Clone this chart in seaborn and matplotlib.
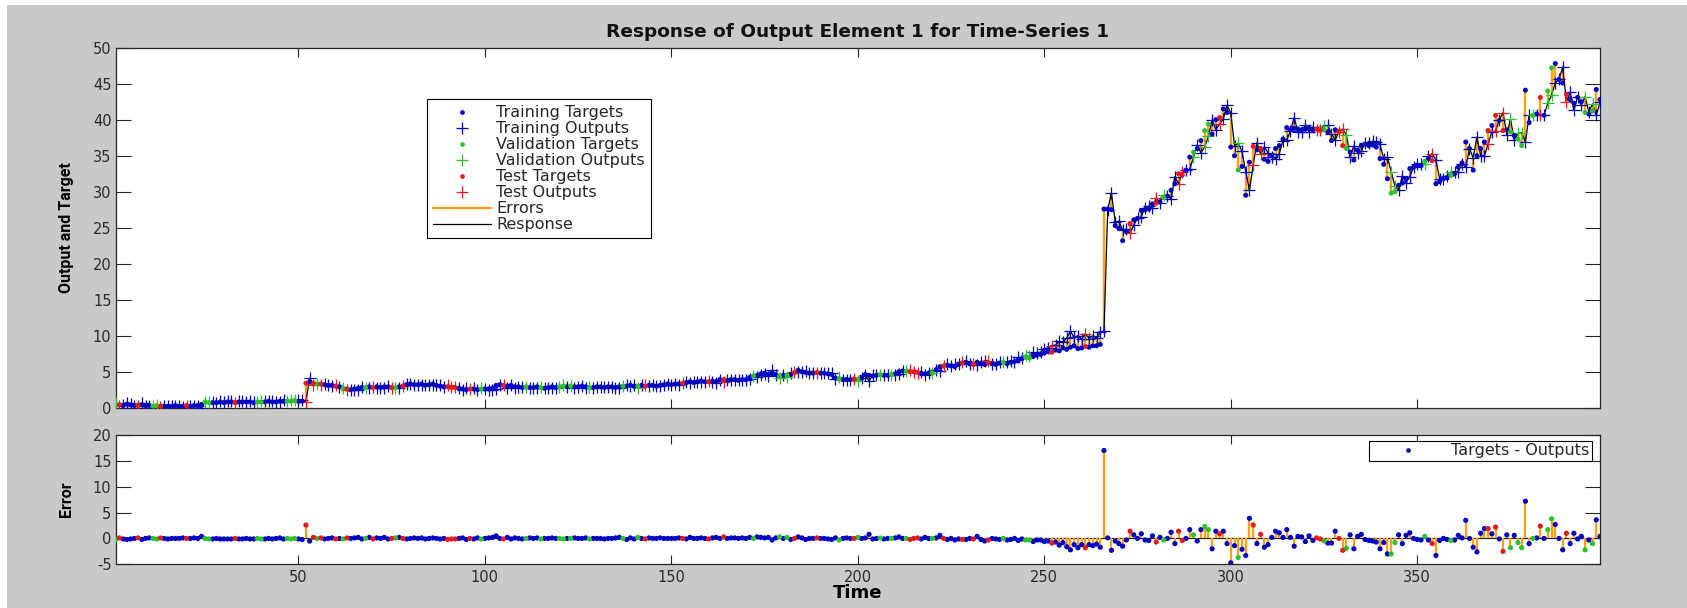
import matplotlib
matplotlib.use("Agg")
import matplotlib.pyplot as plt
import numpy as np
import pandas as pd
import seaborn as sns
from matplotlib.lines import Line2D
from matplotlib.patches import Rectangle

# ---------------- data ----------------
time_steps = list(range(1, 400))

targets = [
    0.4, 0.4, 0.3, 0.5, 0.4, 0.3, 0.3, 0.4, 0.3, 0.3,
    0.2, 0.3, 0.2, 0.2, 0.2, 0.2, 0.3, 0.2, 0.2, 0.3,
    0.2, 0.3, 0.3, 0.4, 0.8, 0.7, 0.7, 0.7, 0.8, 0.7,
    0.8, 0.8, 0.7, 0.8, 0.8, 0.8, 0.8, 0.7, 0.8, 0.8,
    0.8, 0.9, 0.8, 0.8, 0.9, 0.9, 0.9, 0.9, 1.0, 0.9,
    0.9, 3.4, 3.6, 3.4, 3.3, 3.3, 3.2, 3.1, 3.1, 3.0,
    2.9, 2.7, 2.6, 2.5, 2.6, 2.7, 2.8, 2.8, 2.9, 2.8,
    2.9, 2.8, 2.9, 2.9, 2.8, 2.8, 2.9, 3.0, 3.2, 3.3,
    3.2, 3.2, 3.3, 3.1, 3.2, 3.3, 3.1, 3.0, 2.9, 2.9,
    2.8, 2.8, 2.7, 2.6, 2.5, 2.6, 2.6, 2.5, 2.6, 2.6,
    2.6, 2.7, 3.1, 3.2, 3.1, 3.0, 3.1, 2.9, 2.9, 2.8,
    2.9, 2.8, 2.8, 2.9, 2.8, 2.7, 2.8, 2.9, 2.8, 2.9,
    3.0, 2.9, 3.0, 2.9, 2.9, 3.0, 2.9, 2.8, 2.8, 2.9,
    2.9, 2.8, 2.9, 2.9, 2.8, 2.9, 3.0, 3.0, 3.1, 3.0,
    3.0, 3.1, 3.0, 3.1, 3.1, 3.0, 3.1, 3.2, 3.3, 3.2,
    3.3, 3.3, 3.4, 3.5, 3.6, 3.5, 3.6, 3.7, 3.6, 3.6,
    3.7, 3.6, 3.9, 3.9, 3.8, 3.9, 3.9, 3.8, 3.9, 3.9,
    4.2, 4.4, 4.5, 4.7, 4.8, 4.6, 4.9, 4.6, 4.4, 4.5,
    4.5, 4.6, 4.9, 5.2, 5.0, 4.9, 4.8, 4.8, 4.9, 4.8,
    4.8, 4.7, 4.6, 4.1, 4.0, 3.9, 3.9, 3.9, 4.0, 3.9,
    4.1, 4.6, 4.5, 4.4, 4.5, 4.6, 4.5, 4.5, 4.6, 4.7,
    5.0, 5.1, 5.1, 5.0, 5.0, 4.9, 4.8, 4.7, 4.8, 4.8,
    5.3, 5.7, 5.8, 5.9, 5.8, 5.7, 6.0, 6.2, 6.3, 6.1,
    6.0, 6.3, 6.1, 6.0, 6.2, 6.1, 6.0, 6.2, 6.3, 6.1,
    6.3, 6.4, 6.6, 6.8, 7.0, 6.9, 7.1, 7.3, 7.4, 7.6,
    7.8, 7.7, 8.0, 7.9, 8.3, 8.1, 8.4, 8.6, 8.2, 8.3,
    8.5, 8.4, 8.6, 8.6, 8.8, 27.6, 27.6, 27.5, 25.3, 24.9,
    23.2, 24.5, 25.6, 26.1, 26.3, 27.4, 27.5, 27.6, 28.3, 28.4,
    28.6, 29.2, 29.4, 30.2, 31.1, 32.5, 32.3, 33.0, 34.8, 35.5,
    36.0, 37.1, 38.5, 39.4, 38.0, 40.0, 40.3, 41.5, 41.0, 36.2,
    35.0, 33.0, 33.5, 29.5, 34.1, 36.3, 35.8, 36.0, 34.5, 34.2,
    35.0, 36.0, 36.4, 37.3, 38.9, 38.6, 38.8, 38.7, 38.6, 38.7,
    38.8, 38.6, 38.7, 38.5, 38.6, 38.3, 37.1, 38.6, 38.3, 36.4,
    36.0, 35.5, 34.4, 35.8, 36.4, 36.6, 36.4, 36.5, 36.2, 34.6,
    33.8, 31.8, 29.8, 30.0, 30.9, 31.2, 31.8, 33.2, 33.4, 33.7,
    33.6, 34.2, 34.6, 34.3, 31.1, 31.4, 31.8, 32.0, 32.3, 32.5,
    33.4, 34.0, 36.9, 36.0, 33.0, 35.0, 36.0, 36.9, 38.5, 39.2,
    40.6, 39.9, 38.5, 38.6, 38.3, 37.8, 37.3, 36.4, 44.1, 39.6,
    40.6, 40.8, 43.1, 40.6, 44.0, 47.2, 47.8, 45.6, 45.1, 43.5,
    42.8, 42.3, 43.1, 42.5, 41.0, 40.8, 41.2, 44.2, 42.8,
]

# errors = targets - outputs
errors = [
    -0.2, 0.1, -0.1, -0.2, -0.1, 0.0, 0.1, -0.2, 0.0, 0.1,
    0.0, -0.1, 0.1, 0.0, -0.1, 0.0, 0.0, 0.0, 0.1, 0.0,
    0.0, 0.1, 0.0, 0.4, 0.0, -0.1, -0.1, 0.0, -0.1, -0.1,
    -0.1, -0.1, 0.0, -0.1, -0.1, 0.0, -0.1, -0.1, 0.0, -0.1,
    -0.1, 0.0, -0.1, 0.0, 0.1, -0.1, 0.0, -0.1, 0.0, -0.1,
    -0.2, 2.6, -0.5, 0.2, 0.0, 0.1, -0.1, 0.0, 0.1, -0.1,
    0.0, -0.1, 0.1, 0.0, 0.1, 0.2, -0.1, 0.0, 0.2, -0.1,
    0.1, 0.0, 0.2, -0.1, 0.0, 0.1, 0.2, 0.0, -0.1, 0.0,
    0.1, 0.0, 0.1, -0.1, 0.0, 0.1, 0.0, -0.1, 0.0, -0.2,
    -0.1, -0.1, 0.0, 0.1, -0.2, 0.0, -0.1, 0.1, -0.1, 0.0,
    0.1, 0.2, 0.5, 0.0, -0.1, 0.2, -0.1, 0.1, 0.0, -0.1,
    0.0, 0.1, 0.0, 0.1, -0.1, 0.0, 0.0, 0.1, 0.0, 0.0,
    -0.1, 0.0, 0.0, 0.1, 0.0, 0.0, 0.1, -0.1, 0.0, 0.0,
    0.0, -0.1, 0.0, 0.0, 0.1, 0.2, 0.0, -0.2, 0.1, -0.1,
    0.2, 0.0, -0.1, 0.1, 0.0, 0.0, 0.1, 0.0, 0.0, 0.0,
    0.0, 0.1, 0.0, -0.1, 0.2, 0.0, 0.0, 0.1, 0.0, -0.1,
    0.1, 0.2, 0.0, 0.3, 0.0, 0.1, 0.1, 0.0, 0.1, 0.0,
    0.2, 0.0, 0.3, 0.2, 0.1, 0.2, -0.3, 0.1, 0.3, 0.0,
    0.2, -0.2, 0.0, 0.3, 0.1, -0.2, 0.0, 0.0, 0.1, 0.0,
    0.0, -0.1, -0.2, 0.1, -0.3, 0.0, 0.1, 0.0, 0.0, 0.2,
    0.0, 0.1, 0.8, -0.1, 0.0, 0.1, -0.1, 0.0, 0.0, 0.1,
    0.3, 0.0, 0.0, -0.2, 0.0, 0.1, -0.1, 0.2, 0.0, 0.0,
    0.1, 0.6, 0.0, -0.2, 0.0, -0.3, -0.1, -0.2, -0.2, 0.0,
    -0.1, 0.4, -0.2, -0.5, -0.3, 0.0, -0.1, -0.2, 0.0, -0.3,
    -0.2, 0.0, -0.4, -0.1, -0.3, -0.3, -0.6, -0.3, -0.3, -0.6,
    -0.5, -0.9, -0.7, -1.3, -0.8, -1.6, -2.2, -1.2, -1.8, -1.2,
    -1.8, -1.2, -1.4, -1.1, -1.7, 17.0, 0.1, -2.3, -0.5, -1.0,
    -1.5, -0.3, 1.4, 0.7, 0.0, 0.9, -0.3, -0.4, 0.5, -0.7,
    0.2, -0.3, 0.0, 1.2, -1.0, 1.4, -0.4, 0.0, 1.7, 0.7,
    -0.5, 1.7, 2.3, 1.7, -2.0, 1.4, 0.9, 1.4, -1.0, -4.7,
    -1.4, -3.7, -2.1, -3.3, 3.9, 2.6, -1.0, 0.8, -1.7, -1.2,
    0.2, 1.4, 1.1, 0.2, 1.7, 0.2, -1.5, 0.4, 0.3, -0.6,
    0.5, -0.4, 0.1, -0.1, -0.5, -0.9, -0.9, 1.4, 0.0, -2.3,
    -1.9, 0.7, -2.0, 0.4, 0.8, -0.2, -0.4, -0.5, -0.7, -2.0,
    -0.8, -3.0, -3.0, -0.8, 0.7, -1.0, 0.6, 1.1, 0.0, -0.2,
    -0.3, 0.4, -0.3, -1.0, -3.3, -0.4, 0.0, -0.2, -0.4, -0.3,
    0.6, 0.1, 3.5, 0.0, -1.7, -2.6, 1.0, 1.9, 1.9, 0.9,
    2.2, -0.1, -2.5, 0.7, -1.8, 0.6, -0.8, -1.8, 7.2, -1.0,
    0.0, 0.1, 2.4, 0.0, 1.7, 3.8, 2.7, 0.0, -2.2, 1.0,
    -1.0, 1.0, -0.1, 0.4, -2.2, -0.3, -1.0, 3.6, 0.4,
]

# data division per time step: T = training, V = validation, S = test
split_codes = (
    "VSTTTTSTTT" "VVSTTTTTTS" "TTTTVVTTTT" "TTSTTTTTVV" "TTTTTTVVVT"
    "TSTSVSTTTS" "TVSTTTTVTS" "TTTTSVTSTT" "TTTTTTTTTS" "SSTTTSTTVT"
    "TTTTSTTTTT" "VTTTVTTTTV" "VTVTTTTVTT" "TTTTTTVTTT" "VTSTTTTTTT"
    "TTSTTTTTTS" "TTTSTTTTTT" "TVTTTTTTVT" "VTSTTTTTST" "TTTTVTTTSV"
    "TTTTTVTTVT" "TTVSSSTTTV" "TTSTTTTSTT" "STTTSTTTVT" "TTTTVVTTTT"
    "TSTTTTTTTT" "STTTTTTTTT" "TTSTTTTTTS" "TVTTTSSTTV" "TTVVTTSTTT"
    "TVTTTSTSTT" "TTTTTTTTTT" "TTSSVTTTSS" "VTTTTTTTTT" "TTVVTTTTTT"
    "TVTSTTTTVT" "TTTTTTTTST" "STSTVTVVTT" "VTSTVVTTTS" "TTTTVTVTT"
)

set_names = {"T": "Training", "V": "Validation", "S": "Test"}
set_order = ["Training", "Validation", "Test"]
set_colors = {"Training": "#0000c0", "Validation": "#2cc22c", "Test": "#e01c1c"}

x_ticks = [50, 100, 150, 200, 250, 300, 350]
top_y_ticks = [0, 5, 10, 15, 20, 25, 30, 35, 40, 45, 50]
bottom_y_ticks = [-5, 0, 5, 10, 15, 20]

title_text = "Response of Output Element 1 for Time-Series 1"
top_legend_labels = ["Training Targets", "Training Outputs", "Validation Targets",
                     "Validation Outputs", "Test Targets", "Test Outputs",
                     "Errors", "Response"]
bottom_legend_label = "Targets - Outputs"

assert len(targets) == len(time_steps) == len(errors) == len(split_codes)

df = pd.DataFrame({
    "time": time_steps,
    "target": targets,
    "error": errors,
    "set": [set_names[c] for c in split_codes],
})
df["output"] = df["target"] - df["error"]

# ---------------- style ----------------
sns.set_theme(style="ticks")
plt.rcParams["font.family"] = ["DejaVu Sans"]
plt.rcParams["axes.unicode_minus"] = False

ORANGE = "#ffa010"
AXCOL = "#262626"
TICKLAB = "#2a2a2a"
BG = "#c9c9c9"
W, H = 1687, 608

fig = plt.figure(figsize=(W / 100, H / 100), dpi=100, facecolor=BG)
fig.add_artist(Rectangle((0, 1 - 5 / H), 1, 5 / H, transform=fig.transFigure,
                         facecolor="white", edgecolor="none", zorder=0))
fig.add_artist(Rectangle((0, 0), 7 / W, 1, transform=fig.transFigure,
                         facecolor="white", edgecolor="none", zorder=0))

left = 115.7 / W
width = (1600 - 115.7) / W
ax1 = fig.add_axes([left, 1 - 407.7 / H, width, (407.7 - 47.7) / H])
ax2 = fig.add_axes([left, 1 - 564.3 / H, width, (564.3 - 435.0) / H])

# ---------------- top: response ----------------
ax1.vlines(df["time"], df["target"], df["output"], color=ORANGE, lw=1.7, zorder=1)
sns.lineplot(data=df, x="time", y="output", estimator=None, sort=False,
             color="black", lw=0.9, ax=ax1, zorder=2)
for name in set_order:
    sub = df[df["set"] == name]
    sns.scatterplot(data=sub, x="time", y="output", marker="+", s=64,
                    color=set_colors[name], linewidth=0.9, ax=ax1, zorder=3)
for name in set_order:
    sub = df[df["set"] == name]
    sns.scatterplot(data=sub, x="time", y="target", marker="o", s=13,
                    color=set_colors[name], edgecolor="none", linewidth=0,
                    ax=ax1, zorder=4)

# ---------------- bottom: error ----------------
ax2.axhline(0, color="#202020", lw=0.9, zorder=1)
ax2.vlines(df["time"], 0, df["error"], color=ORANGE, lw=1.6, zorder=2)
for name in set_order:
    sub = df[df["set"] == name]
    sns.scatterplot(data=sub, x="time", y="error", marker="o", s=14,
                    color=set_colors[name], edgecolor="none", linewidth=0,
                    ax=ax2, zorder=3)

# ---------------- axes cosmetics ----------------
for ax in (ax1, ax2):
    ax.set_facecolor("white")
    ax.set_xlim(1, 399)
    ax.set_xticks(x_ticks)
    ax.tick_params(axis="x", which="both", direction="in", length=6.7, width=0.8,
                   top=True, bottom=True, color=AXCOL, labelcolor=TICKLAB,
                   labelsize=10.5, pad=4)
    ax.tick_params(axis="y", which="both", direction="in", length=10.8, width=0.8,
                   left=True, right=True, color=AXCOL, labelcolor=TICKLAB,
                   labelsize=10.5, pad=3)
    for sp in ax.spines.values():
        sp.set_visible(True)
        sp.set_color(AXCOL)
        sp.set_linewidth(0.9)
    ax.grid(False)

ax1.set_ylim(0, 50)
ax1.set_yticks(top_y_ticks)
ax1.tick_params(axis="x", labelbottom=False)
ax1.set_xlabel("")
ax1.set_ylabel("Output and Target", fontsize=11.5, fontweight="bold",
               family=["Roboto", "DejaVu Sans"], color="black")
ax1.yaxis.set_label_coords(-0.028, 0.5)
ax1.set_title(title_text, fontsize=13.3, fontweight="bold", color="#111111", pad=8)

ax2.set_ylim(-5, 20)
ax2.set_yticks(bottom_y_ticks)
ax2.set_ylabel("Error", fontsize=11.5, fontweight="bold",
               family=["Roboto", "DejaVu Sans"], color="black")
ax2.yaxis.set_label_coords(-0.028, 0.5)
ax2.set_xlabel("Time", fontsize=13, fontweight="bold", color="black")
ax2.xaxis.set_label_coords(0.5, -0.15)
ax2.xaxis.label.set_va("top")

# ---------------- legends ----------------
handles = []
for name in set_order:
    c = set_colors[name]
    handles.append(Line2D([], [], ls="none", marker="o", ms=3.4, mew=0, color=c))
    handles.append(Line2D([], [], ls="none", marker="+", ms=8, mew=0.9, color=c))
handles.append(Line2D([], [], color=ORANGE, lw=1.6))
handles.append(Line2D([], [], color="black", lw=0.9))

leg1 = ax1.legend(handles, top_legend_labels, loc="upper left",
                  bbox_to_anchor=(0.2097, 0.8575), borderaxespad=0,
                  frameon=True, fancybox=False, edgecolor="black", framealpha=1,
                  fontsize=11.5, handlelength=3.6, handletextpad=0.35,
                  borderpad=0.4, labelspacing=0.06)
leg1.get_frame().set_linewidth(0.8)

h2 = [Line2D([], [], ls="none", marker="o", ms=3.4, mew=0, color="#10108a")]
leg2 = ax2.legend(h2, [bottom_legend_label], loc="upper right",
                  bbox_to_anchor=(0.9946, 0.9536), borderaxespad=0,
                  frameon=True, fancybox=False, edgecolor="black", framealpha=1,
                  fontsize=11.5, handlelength=4.6, handletextpad=0.4,
                  borderpad=0.15)
leg2.get_frame().set_linewidth(0.8)

fig.savefig("out.png", dpi=100, facecolor=fig.get_facecolor())
